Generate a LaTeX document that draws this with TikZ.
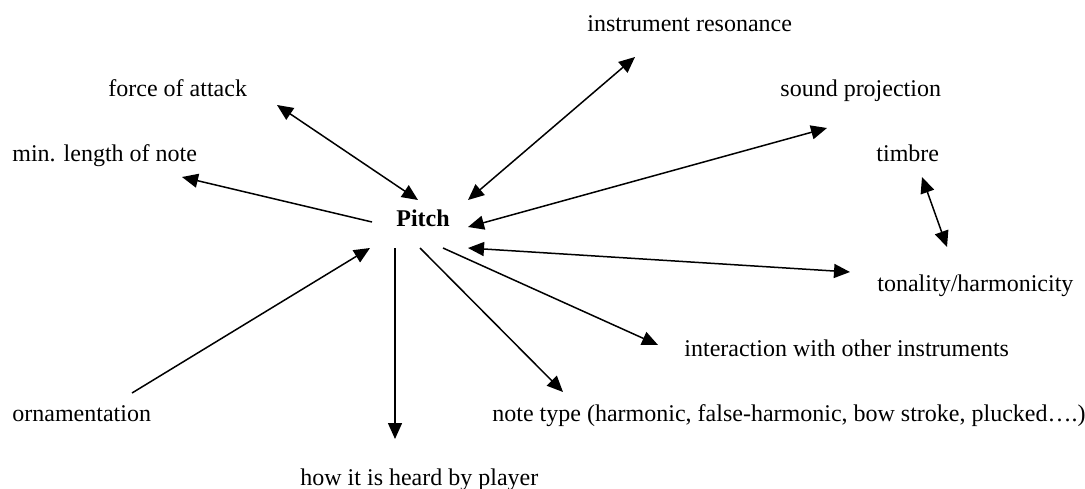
\documentclass[tikz,border=0pt]{standalone}
\usepackage{fontspec}
\setmainfont{Liberation Serif}
\usepackage{tikz}
\usetikzlibrary{arrows.meta}

\tikzset{
  lbl/.style={anchor=base west, inner sep=0pt, font=\fontsize{12}{14}\selectfont},
  link/.style={line width=0.75pt, -{Triangle[length=8pt,width=7pt]}},
  twoway/.style={line width=0.75pt, {Triangle[length=8pt,width=7pt]}-{Triangle[length=8pt,width=7pt]}}
}

\begin{document}
\begin{tikzpicture}[x=0.5pt,y=-0.5pt]
\useasboundingbox (0,0) rectangle (1085,488);

% Labels
\node[lbl] (pitch) at (396,226) {\textbf{Pitch}};
\node[lbl] (reson) at (587,31) {instrument resonance};
\node[lbl] (force) at (108,96) {force of attack};
\node[lbl] (proj) at (780,96) {sound projection};
\node[lbl] (minlen) at (12,161) {min. length of note};
\node[lbl] (timbre) at (876,161) {timbre};
\node[lbl] (tonal) at (877,291) {tonality/harmonicity};
\node[lbl] (inter) at (684,356) {interaction with other instruments};
\node[lbl] (orna) at (12,421) {ornamentation};
\node[lbl] (ntype) at (492,421) {note type (harmonic, false-harmonic, bow stroke, plucked….)};
\node[lbl] (heard) at (300,485) {how it is heard by player};

% Arrow ends
\coordinate (resA) at (468,200);  \coordinate (resB) at (635,57);
\coordinate (forA) at (418,200);  \coordinate (forB) at (277,105);
\coordinate (minA) at (372,222);  \coordinate (minB) at (182,177);
\coordinate (proA) at (468,227);  \coordinate (proB) at (827,128);
\coordinate (timA) at (922,177);  \coordinate (timB) at (947,247);
\coordinate (tonA) at (468,248);  \coordinate (tonB) at (850,272);
\coordinate (intA) at (443,248);  \coordinate (intB) at (658,345);
\coordinate (ntyA) at (420,248);  \coordinate (ntyB) at (563,392);
\coordinate (heaA) at (395,248);  \coordinate (heaB) at (395,439);
\coordinate (ornA) at (132,393);  \coordinate (ornB) at (370,248);

% Arrows
\draw[twoway] (resA) -- (resB);
\draw[twoway] (forA) -- (forB);
\draw[link] (minA) -- (minB);
\draw[twoway] (proA) -- (proB);
\draw[twoway] (timA) -- (timB);
\draw[twoway] (tonA) -- (tonB);
\draw[link] (intA) -- (intB);
\draw[link] (ntyA) -- (ntyB);
\draw[link] (heaA) -- (heaB);
\draw[link] (ornA) -- (ornB);

\end{tikzpicture}
\end{document}
